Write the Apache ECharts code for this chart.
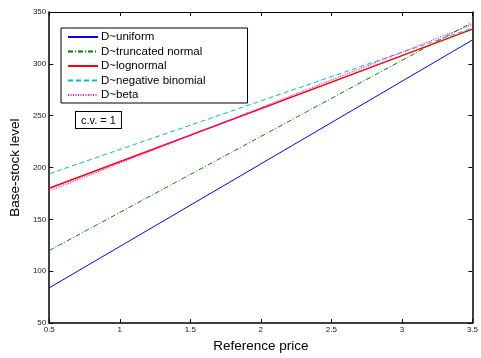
<!DOCTYPE html>
<html>
<head>
<meta charset="utf-8">
<script src="https://cdn.jsdelivr.net/npm/echarts@6/dist/echarts.min.js"></script>
<style>
  html, body { margin: 0; padding: 0; background: #fff; }
  #chart { width: 481px; height: 358px; }
</style>
</head>
<body>
<div id="chart"></div>
<script>
// reference price at the two ends of each line
const prices = [0.5, 3.5];
const seriesNames = ['D~uniform', 'D~truncated normal', 'D~lognormal', 'D~negative binomial', 'D~beta'];
const uniform = [84, 323];
const truncNormal = [120, 340];
const lognormal = [180, 333.5];
const negBinomial = [194, 334.5];
const beta = [177.5, 338];

const font = 'Liberation Sans, Arial, Helvetica, sans-serif';

const toPairs = (vals) => prices.map((p, i) => [p, vals[i]]);

// style per curve
const styles = [
  { color: '#0000ff', width: 1, type: 'solid' },
  { color: '#008000', width: 1, type: [5, 2, 1, 2] },
  { color: '#ff0000', width: 1.5, type: 'solid' },
  { color: '#00bfbf', width: 1, type: [5, 3] },
  { color: '#ff00ff', width: 1.2, type: [1, 1.5] },
];
const values = [uniform, truncNormal, lognormal, negBinomial, beta];

const myChart = echarts.init(document.getElementById('chart'));

const series = seriesNames.map((name, i) => ({
  name: name,
  type: 'line',
  data: toPairs(values[i]),
  symbol: 'none',
  silent: true,
  z: i === 4 ? 6 : 5,
  color: styles[i].color,
  lineStyle: { color: styles[i].color, width: styles[i].width, type: styles[i].type },
}));

const axisLineStyle = { show: true, lineStyle: { color: '#000', width: 1.5 } };
const tickStyle = { show: true, inside: true, length: 4, lineStyle: { color: '#000', width: 1 } };

const options = {
  animation: false,
  grid: { left: 43, right: 3, top: 12, bottom: 29 },
  legend: {
    show: true,
    orient: 'vertical',
    left: 61,
    top: 28,
    padding: [3, 42, 2, 6],
    itemGap: 2.5,
    itemWidth: 30,
    itemHeight: 11,
    borderColor: '#000',
    borderWidth: 1,
    backgroundColor: '#fff',
    itemStyle: { opacity: 0 },
    data: seriesNames,
    textStyle: { fontFamily: font, fontSize: 11.5, color: '#000', padding: [0, 0, 0, -2] },
  },
  graphic: [
    {
      type: 'text',
      left: 75,
      top: 111,
      style: {
        text: 'c.v. = 1',
        font: '11px ' + font,
        fill: '#000',
        backgroundColor: '#fff',
        borderColor: '#000',
        borderWidth: 1,
        padding: [3, 5, 2, 5],
      },
    },
  ],
  xAxis: [
    {
      type: 'value',
      min: 0.5,
      max: 3.5,
      interval: 0.5,
      name: 'Reference price',
      nameLocation: 'middle',
      nameGap: 13,
      nameTextStyle: { fontFamily: font, fontSize: 13.5, color: '#000' },
      axisLine: axisLineStyle,
      axisTick: tickStyle,
      axisLabel: { fontFamily: font, fontSize: 8, color: '#222', margin: 3 },
      splitLine: { show: false },
    },
    {
      type: 'value',
      position: 'top',
      min: 0.5,
      max: 3.5,
      interval: 0.5,
      axisLine: { show: true, lineStyle: { color: '#000', width: 1 } },
      axisTick: tickStyle,
      axisLabel: { show: false },
      splitLine: { show: false },
    },
  ],
  yAxis: [
    {
      type: 'value',
      min: 50,
      max: 350,
      interval: 50,
      name: 'Base-stock level',
      nameLocation: 'middle',
      nameGap: 18,
      nameTextStyle: { fontFamily: font, fontSize: 13.5, color: '#000' },
      axisLine: axisLineStyle,
      axisTick: tickStyle,
      axisLabel: { fontFamily: font, fontSize: 8, color: '#222', margin: 3 },
      splitLine: { show: false },
    },
    {
      type: 'value',
      position: 'right',
      min: 50,
      max: 350,
      interval: 50,
      axisLine: axisLineStyle,
      axisTick: tickStyle,
      axisLabel: { show: false },
      splitLine: { show: false },
    },
  ],
  series: series,
};

myChart.setOption(options);
</script>
</body>
</html>
